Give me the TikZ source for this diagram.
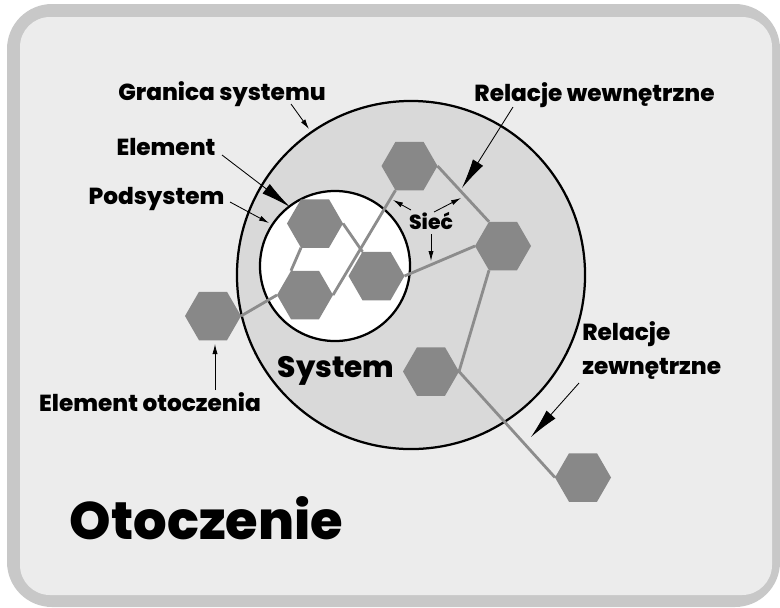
\documentclass[tikz,border=0pt]{standalone}
\usepackage{fontspec}
\setmainfont{Poppins}[BoldFont={Poppins ExtraBold}]
\usepackage{tikz}
\usetikzlibrary{shapes}
\usetikzlibrary{arrows.meta}
\usetikzlibrary{backgrounds}
\definecolor{ramka}{HTML}{C8C8C8}
\definecolor{otoczenie}{HTML}{ECECEC}
\definecolor{sysfill}{HTML}{D9D9D9}
\definecolor{hexfill}{HTML}{888888}
\definecolor{linia}{HTML}{8C8C8C}
\tikzstyle{hex}=[regular polygon, regular polygon sides=6, minimum size=1.4cm, inner sep=0pt, outer sep=0pt, fill=hexfill]
\tikzstyle{krag}=[circle, draw=black, line width=1.6pt, inner sep=0pt, outer sep=0pt]
\tikzstyle{rel}=[draw=linia, line width=2pt]
\tikzstyle{lab}=[font=\bfseries\fontsize{16.5}{20}\selectfont, inner sep=0pt, anchor=base]
\tikzstyle{big>}=[-{Latex[length=0.75cm,width=0.3cm]}, line width=0.6pt]
\tikzstyle{small>}=[-{Latex[length=0.25cm,width=0.13cm]}, line width=0.6pt]
\pgfdeclarelayer{tlo}
\pgfdeclarelayer{siec}
\pgfsetlayers{tlo,siec,main}

\begin{document}
\begin{tikzpicture}[x=0.025cm, y=-0.025cm]
\useasboundingbox (0,0) rectangle (780,607);
\begin{pgfonlayer}{tlo}
\fill[ramka, rounded corners=1.125cm] (7,4) rectangle (780,607);
\fill[otoczenie, rounded corners=0.75cm] (20,17) rectangle (772,595);
\node[krag, fill=sysfill, minimum size=8.7cm] (system) at (411,275) {};
\node[krag, fill=white, minimum size=3.75cm] (podsystem) at (335,266) {};
\end{pgfonlayer}
\node[hex] (s1) at (315,223.5) {};
\node[hex] (s2) at (305,295) {};
\node[hex] (s3) at (376.5,276) {};
\node[hex] (w1) at (409.5,166) {};
\node[hex] (w2) at (503,246) {};
\node[hex] (w3) at (431,371.5) {};
\node[hex] (o1) at (213,316) {};
\node[hex] (o2) at (583,477.5) {};
\begin{pgfonlayer}{siec}
\draw[rel] (o1.east) -- (s2.west);
\draw[rel] (s1.240) -- (s2.120);
\draw[rel] (s1.east) -- (s3.120);
\draw[rel] (s2.east) -- (w1.240);
\draw[rel] (w1.east) -- (w2.120);
\draw[rel] (s3.east) -- (w2.west);
\draw[rel] (w2.240) -- (w3.east);
\draw[rel] (w3.east) -- (o2.west);
\end{pgfonlayer}
\node[lab] (granica) at (222,100) {Granica systemu};
\node[lab] (element) at (166,155) {Element};
\node[lab] (podsys) at (156.5,204) {Podsystem};
\node[lab] (wewn) at (594.5,101.5) {Relacje wewnętrzne};
\node[lab, font=\bfseries\fontsize{14.5}{18}\selectfont] (siec) at (431,229) {Sieć};
\node[lab, font=\bfseries\fontsize{21}{25}\selectfont] (sys) at (336,377.5) {System};
\node[lab] (elot) at (150,411) {Element otoczenia};
\node[lab, anchor=base west, align=left, font=\bfseries\fontsize{16.5}{23.5}\selectfont] (zewn) at (582,374) {Relacje\\zewnętrzne};
\node[lab, font=\bfseries\fontsize{37.5}{44}\selectfont] (otocz) at (206.5,539) {Otoczenie};
\coordinate (g1) at (291,104);
\coordinate (g2) at (309,129);
\coordinate (e1) at (222,155);
\coordinate (e2) at (290,207);
\coordinate (p1) at (230,202);
\coordinate (p2) at (269,223);
\coordinate (r1) at (513,107);
\coordinate (r2) at (462,188);
\coordinate (n1) at (411,210);
\coordinate (n2) at (393,200);
\coordinate (n3) at (434,212);
\coordinate (n4) at (461,198);
\coordinate (n5) at (431,234);
\coordinate (n6) at (431,261);
\coordinate (t1) at (215,390);
\coordinate (t2) at (215,344);
\coordinate (z1) at (579,383);
\coordinate (z2) at (531,437);
\draw[small>] (g1) -- (g2);
\draw[big>] (e1) -- (e2);
\draw[small>] (p1) -- (p2);
\draw[big>] (r1) -- (r2);
\draw[small>] (n1) -- (n2);
\draw[small>] (n3) -- (n4);
\draw[small>] (n5) -- (n6);
\draw[small>] (t1) -- (t2);
\draw[big>] (z1) -- (z2);
\end{tikzpicture}
\end{document}
